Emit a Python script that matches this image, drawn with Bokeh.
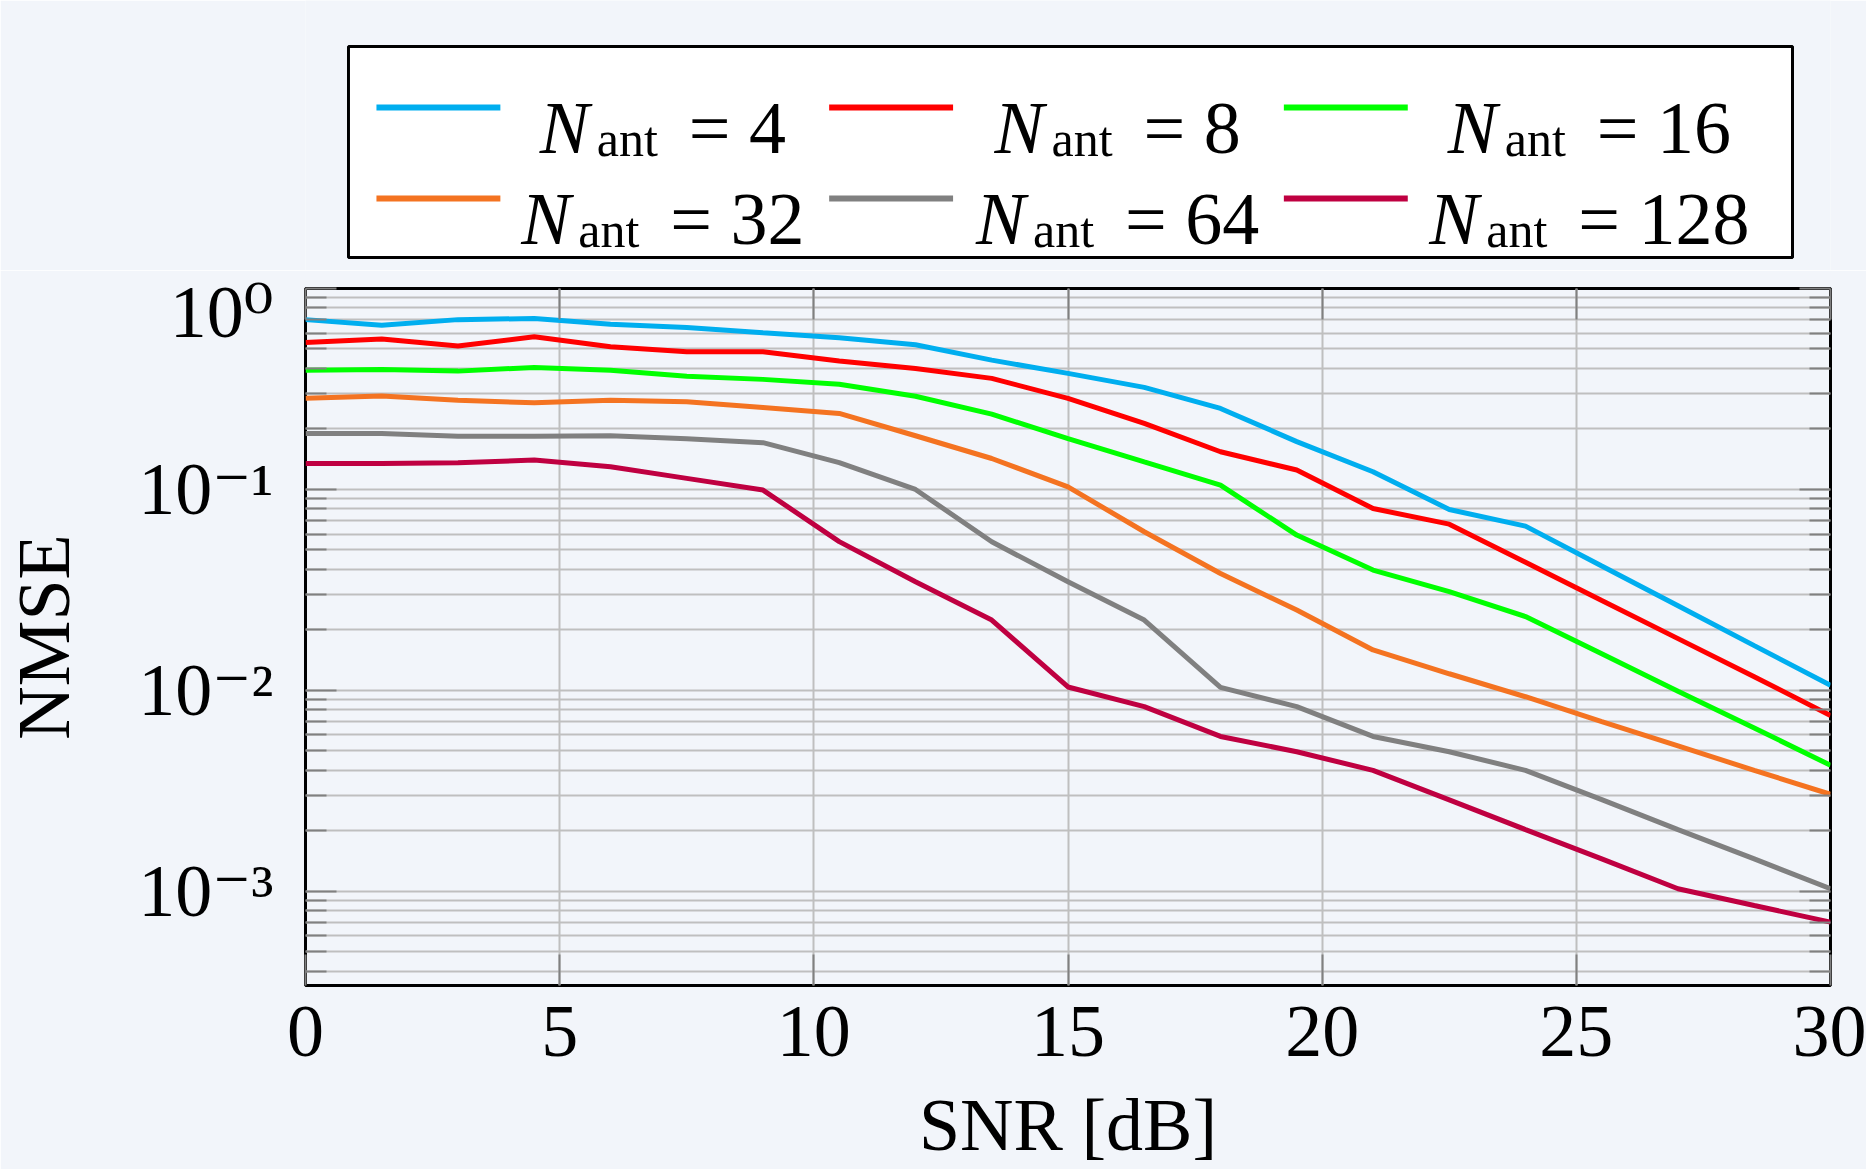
from bokeh.plotting import figure
from bokeh.layouts import column
from bokeh.models import (Range1d, FixedTicker, LogAxis, LinearAxis, CustomJSTickFormatter,
                          ColumnDataSource)
from bokeh.core.properties import value
from bokeh.embed import file_html
from bokeh.resources import INLINE

# ---------------- data ----------------
SNR_DB = [0, 1.5, 3, 4.5, 6, 7.5, 9, 10.5, 12, 13.5, 15, 16.5, 18, 19.5, 21, 22.5, 24, 25.5, 27, 28.5, 30]

NMSE_NANT_4 = [0.70, 0.657, 0.70, 0.709, 0.664, 0.64, 0.602, 0.568, 0.525, 0.44, 0.378, 0.322, 0.253,
               0.173, 0.1225, 0.0795, 0.0657, 0.0416, 0.0264, 0.0167, 0.0106]
NMSE_NANT_8 = [0.539, 0.56, 0.517, 0.575, 0.513, 0.484, 0.484, 0.436, 0.40, 0.357, 0.284, 0.213, 0.154,
               0.125, 0.0804, 0.0672, 0.0434, 0.028, 0.0181, 0.0117, 0.0075]
NMSE_NANT_16 = [0.392, 0.395, 0.388, 0.405, 0.392, 0.366, 0.353, 0.334, 0.291, 0.237, 0.179, 0.137, 0.105,
                0.0593, 0.0397, 0.031, 0.0233, 0.0152, 0.0099, 0.0065, 0.00424]
NMSE_NANT_32 = [0.284, 0.292, 0.278, 0.27, 0.278, 0.273, 0.256, 0.239, 0.185, 0.1426, 0.103, 0.0616, 0.0382,
                0.0251, 0.0159, 0.0121, 0.0093, 0.0070, 0.0053, 0.0040, 0.00304]
NMSE_NANT_64 = [0.19, 0.19, 0.184, 0.184, 0.185, 0.179, 0.171, 0.136, 0.10, 0.0549, 0.0347, 0.0224, 0.01035,
                0.0083, 0.0059, 0.00495, 0.0040, 0.00286, 0.00203, 0.00145, 0.00103]
NMSE_NANT_128 = [0.1347, 0.1347, 0.1357, 0.14, 0.1297, 0.1135, 0.0993, 0.055, 0.0347, 0.0224, 0.0104, 0.0083,
                 0.0059, 0.00495, 0.0040, 0.00285, 0.00203, 0.00145, 0.00103, 0.00085, 0.000703]

SERIES = [NMSE_NANT_4, NMSE_NANT_8, NMSE_NANT_16, NMSE_NANT_32, NMSE_NANT_64, NMSE_NANT_128]
N_ANT = [4, 8, 16, 32, 64, 128]
COLORS = ["#00aeef", "#ff0000", "#00ff00", "#f47321", "#808080", "#bf0041"]

X_TICKS = [0, 5, 10, 15, 20, 25, 30]
Y_TICKS = [1e0, 1e-1, 1e-2, 1e-3]
Y_TICK_LABELS = ["10\u2070", "10\u207b\u00b9", "10\u207b\u00b2", "10\u207b\u00b3"]
X_LABEL = "SNR [dB]"
Y_LABEL = "NMSE"
LEGEND_SYMBOL = "N"
LEGEND_SUB = "ant"
X_MIN, X_MAX = 0, 30
Y_MIN, Y_MAX = 3.4e-4, 1.0

# ---------------- styling / layout ----------------
BG = "#f2f5fa"
GRID = "#bfbfbf"
TICK = "#808080"
FONT = "'Liberation Serif', 'DejaVu Serif', serif"
FS = "74px"
FS_SUB = "50px"

W, H_TOTAL = 1866, 1169
LEG_H = 270
FRAME_TOP, FRAME_BOTTOM, FRAME_LEFT, FRAME_RIGHT = 288, 985, 304, 1830

# ---------------- main plot ----------------
p = figure(width=W, height=H_TOTAL - LEG_H, y_axis_type="log",
           x_range=Range1d(X_MIN, X_MAX), y_range=Range1d(Y_MIN, Y_MAX),
           output_backend="svg", toolbar_location=None,
           min_border_left=FRAME_LEFT, min_border_right=W - FRAME_RIGHT,
           min_border_top=FRAME_TOP - LEG_H, min_border_bottom=H_TOTAL - FRAME_BOTTOM,
           background_fill_color=BG, border_fill_color=BG)
p.outline_line_color = "black"
p.outline_line_width = 3

y_minor = [m * 10.0 ** e for e in range(-4, 0) for m in range(2, 10) if m * 10.0 ** e >= Y_MIN]
x_ticker = FixedTicker(ticks=X_TICKS, minor_ticks=[])
y_ticker = FixedTicker(ticks=Y_TICKS, minor_ticks=y_minor)
empty = CustomJSTickFormatter(code="return ''")
y_fmt = CustomJSTickFormatter(args=dict(ytv=Y_TICKS, ylab=Y_TICK_LABELS), code="""
for (let i = 0; i < ytv.length; i++) {
  if (Math.abs(Math.log10(tick) - Math.log10(ytv[i])) < 1e-6) { return ylab[i]; }
}
return '';
""")


def style_axis(ax, labels=False):
    ax.axis_line_color = None
    ax.major_tick_in = 31
    ax.major_tick_out = 0
    ax.minor_tick_in = 21
    ax.minor_tick_out = 0
    ax.major_tick_line_color = TICK
    ax.major_tick_line_width = 2
    ax.minor_tick_line_color = TICK
    ax.minor_tick_line_width = 2
    if labels:
        ax.major_label_text_font = FONT
        ax.major_label_text_font_size = FS
        ax.major_label_text_color = "black"
        ax.axis_label_text_font = FONT
        ax.axis_label_text_font_size = FS
        ax.axis_label_text_font_style = "normal"
        ax.axis_label_text_color = "black"
    else:
        ax.major_label_standoff = 0
        ax.major_label_text_font_size = "1px"


xa = p.xaxis[0]
xa.ticker = x_ticker
style_axis(xa, labels=True)
xa.major_label_standoff = 21
xa.axis_label = X_LABEL
xa.axis_label_standoff = 25

ya = p.yaxis[0]
ya.ticker = y_ticker
ya.formatter = y_fmt
style_axis(ya, labels=True)
ya.major_label_standoff = 32
ya.axis_label = Y_LABEL
ya.axis_label_standoff = 50

ra = LogAxis(ticker=y_ticker, formatter=empty)
style_axis(ra)
p.add_layout(ra, "right")
ta = LinearAxis(ticker=x_ticker, formatter=empty)
style_axis(ta)
p.add_layout(ta, "above")

p.xgrid.ticker = x_ticker
p.ygrid.ticker = y_ticker
for g in (p.xgrid[0], p.ygrid[0]):
    g.grid_line_color = GRID
    g.grid_line_width = 2
p.ygrid.minor_grid_line_color = GRID
p.ygrid.minor_grid_line_width = 2

for vals, c in zip(SERIES, COLORS):
    src = ColumnDataSource(dict(x=SNR_DB, y=vals))
    p.line("x", "y", source=src, line_width=5, line_color=c)

# ---------------- legend (own small canvas above the plot, page-pixel coordinates) ----------------
LEG_BOX = (347, 1792, 46, 257)  # left, right, top, bottom (page pixels)
LEG_COL_LINE_X = [375, 828, 1283]
LEG_LINE_LEN = 124
LEG_ROW_LINE_Y = [107, 198]
LEG_COL_TEXT_CENTER = [663, 1118, 1590]
LEG_ROW_BASELINE = [127, 218]

leg = figure(width=W, height=LEG_H, x_range=Range1d(FRAME_LEFT, FRAME_RIGHT), y_range=Range1d(LEG_H, 0),
             output_backend="svg", toolbar_location=None,
             min_border_left=FRAME_LEFT, min_border_right=W - FRAME_RIGHT,
             min_border_top=0, min_border_bottom=0,
             x_axis_location=None, y_axis_location=None,
             background_fill_color=BG, border_fill_color=BG, outline_line_color=None)
leg.grid.visible = False

leg.quad(left=[LEG_BOX[0]], right=[LEG_BOX[1]], top=[LEG_BOX[2]], bottom=[LEG_BOX[3]],
         fill_color="white", line_color="black", line_width=3)

rows = [i // 3 for i in range(len(N_ANT))]
cols = [i % 3 for i in range(len(N_ANT))]
seg_x0 = [LEG_COL_LINE_X[c] for c in cols]
seg_x1 = [x + LEG_LINE_LEN for x in seg_x0]
seg_y = [LEG_ROW_LINE_Y[r] for r in rows]
leg.segment(x0=seg_x0, y0=seg_y, x1=seg_x1, y1=seg_y, line_color=COLORS, line_width=6)

n_left = [LEG_COL_TEXT_CENTER[c] - (212 + 37 * len(str(n))) / 2 for c, n in zip(cols, N_ANT)]
base_y = [LEG_ROW_BASELINE[r] for r in rows]
leg.text(x=n_left, y=base_y, text=[LEGEND_SYMBOL] * len(N_ANT), text_font=value(FONT),
         text_font_size=value(FS), text_font_style="italic", text_color="black",
         text_align="left", text_baseline="alphabetic")
leg.text(x=[x + 57 for x in n_left], y=[b + 11 for b in base_y], text=[LEGEND_SUB] * len(N_ANT),
         text_font=value(FONT), text_font_size=value(FS_SUB), text_color="black",
         text_align="left", text_baseline="alphabetic")
leg.text(x=[x + 149 for x in n_left], y=base_y, text=[f"= {n}" for n in N_ANT],
         text_font=value(FONT), text_font_size=value(FS), text_color="black",
         text_align="left", text_baseline="alphabetic")

layout = column(leg, p)
open("out.html", "w").write(file_html(layout, INLINE))
